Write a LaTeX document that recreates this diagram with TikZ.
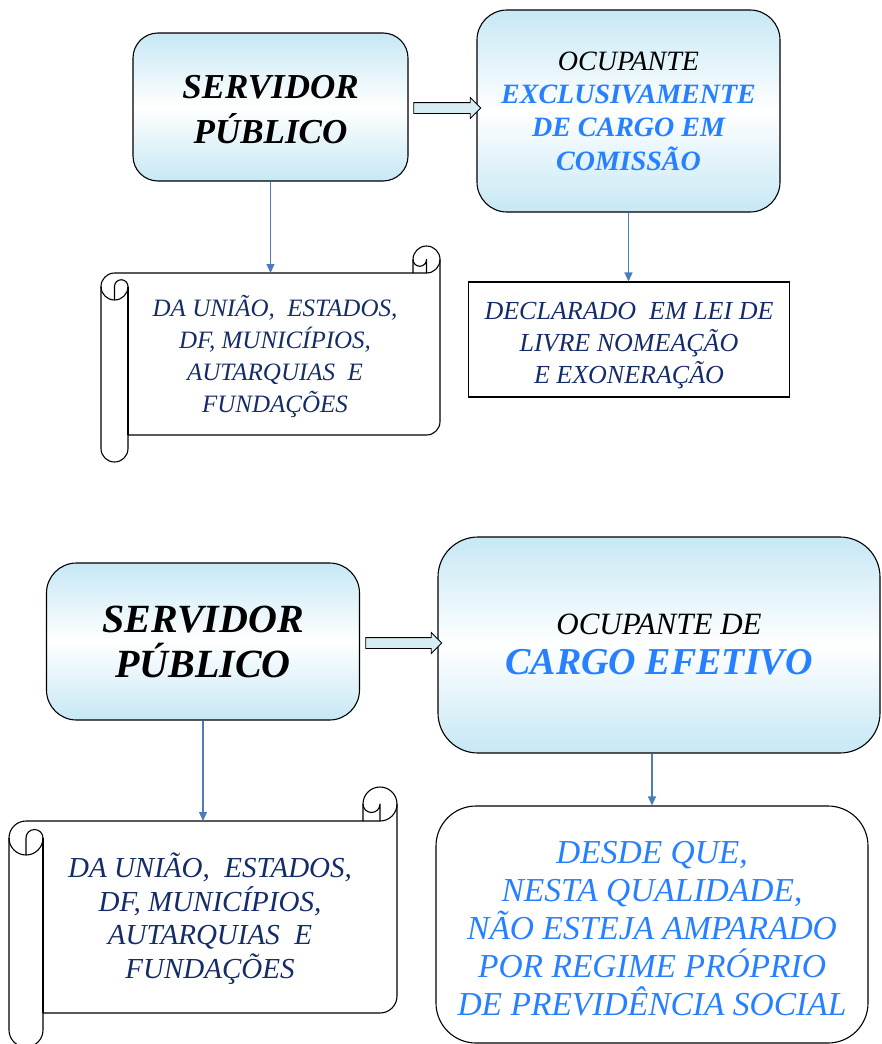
\documentclass[tikz,border=0pt]{standalone}
\usepackage{fontspec}
\setmainfont{Liberation Serif}
\usetikzlibrary{arrows.meta,shapes.arrows,calc}
\definecolor{cgrad}{RGB}{198,232,245}
\definecolor{cblue}{RGB}{38,128,255}
\definecolor{cnavy}{RGB}{20,44,104}
\definecolor{cline}{RGB}{74,126,187}
\definecolor{carrow}{RGB}{214,237,244}
\newcommand\bl[1]{{\color{cblue}\bfseries #1}}
\newcommand\drawscroll[5]{%
  \pgfmathsetmacro\scL{#1}\pgfmathsetmacro\scT{#2}%
  \pgfmathsetmacro\scR{#3}\pgfmathsetmacro\scB{#4}%
  \pgfmathsetmacro\scC{#5}\pgfmathsetmacro\scH{#5/2}\pgfmathsetmacro\scQ{#5/4}%
  \pgfmathsetmacro\ya{\scT+\scH}\pgfmathsetmacro\yb{\scT+\scC}%
  \pgfmathsetmacro\yc{\scT+1.5*\scC}\pgfmathsetmacro\yd{\scT+2*\scC}%
  \pgfmathsetmacro\ye{\scB-1.5*\scC}\pgfmathsetmacro\yf{\scB-\scC}%
  \pgfmathsetmacro\yg{\scB-\scH}%
  \pgfmathsetmacro\xa{\scL+\scH}\pgfmathsetmacro\xb{\scL+\scC}%
  \pgfmathsetmacro\xc{\scR-\scC}\pgfmathsetmacro\xd{\scR-\scH}%
  \draw[scrl, fill=white] (\scL,\yc) arc[start angle=180,end angle=270,radius=\scH]
    -- (\xc,\yb) -- (\xc,\ya) arc[start angle=180,end angle=360,radius=\scH]
    -- (\scR,\ye) arc[start angle=0,end angle=90,radius=\scH]
    -- (\xb,\yf) -- (\xb,\yg) arc[start angle=0,end angle=180,radius=\scH] -- cycle;
  \draw[scrl] (\xc,\yb) -- (\xd,\yb) arc[start angle=90,end angle=0,radius=\scH];
  \draw[scrl] (\xd,\yb) -- (\xd,\ya) arc[start angle=0,end angle=180,radius=\scQ];
  \draw[scrl] (\xa,\yd) -- (\xa,\yc) arc[start angle=180,end angle=360,radius=\scQ]
    arc[start angle=0,end angle=180,radius=\scH];
  \draw[scrl] (\xb,\yc) -- (\xb,\yf);
}
\begin{document}
\begin{tikzpicture}[x=1pt,y=1pt,yscale=-1,
  gbox/.style={draw=black, line width=1.1pt, top color=cgrad, bottom color=cgrad,
    middle color=white, align=center, inner sep=0pt},
  pbox/.style={draw=black, line width=1.1pt, fill=white, align=center, inner sep=0pt},
  scrl/.style={draw=black, line width=1.1pt, line join=round},
  barrow/.style={single arrow, draw=black, line width=0.8pt, fill=carrow, inner sep=5pt,
    single arrow head extend=5pt, single arrow head indent=0pt, minimum width=20pt},
  conn/.style={draw=cline, line width=1.2pt, -{Triangle[length=9pt,width=8pt]}},
  navytext/.style={text=cnavy, align=center}]
\useasboundingbox (0,0) rectangle (881,1044);
\clip (0,0) rectangle (881,1044);

% ---------- top part ----------
\node[gbox, rounded corners=25pt, minimum width=275pt, minimum height=148pt] (SP1) at (270.5,107) {};
\node[align=center, font=\fontsize{35}{45}\selectfont\bfseries\itshape] (SP1t) at (270.5,109.5)
  {SERVIDOR\\PÚBLICO};
\node[gbox, rounded corners=30pt, minimum width=303pt, minimum height=202pt,
  font=\fontsize{28}{33.3}\selectfont\itshape] (OC1) at (628.5,111)
  {OCUPANTE\\\bl{EXCLUSIVAMENTE}\\\bl{DE CARGO EM}\\\bl{COMISSÃO}};
\node[barrow, minimum height=67pt] (A1) at (444.5,108) {};

\drawscroll{101}{246}{440}{462}{27}
\node[navytext, font=\fontsize{25}{32}\selectfont\itshape] (T1) at (275,356)
  {DA UNIÃO,\ \ ESTADOS,\\DF, MUNICÍPIOS,\\AUTARQUIAS\ \ E\\FUNDAÇÕES};
\coordinate (s1top) at (270.5,273);
\draw[conn] (SP1.south) -- (s1top);

\node[pbox, minimum width=321pt, minimum height=115pt] (DECL) at (629,339.5) {};
\node[navytext, font=\fontsize{26}{32}\selectfont\itshape] (DECLt) at (629,345.5)
  {DECLARADO\ \ EM LEI DE\\LIVRE NOMEAÇÃO\\E EXONERAÇÃO};
\draw[conn] (OC1.south) -- (OC1.south |- DECL.north);

% ---------- bottom part ----------
\node[gbox, rounded corners=30pt, minimum width=313pt, minimum height=157pt,
  font=\fontsize{40}{45}\selectfont\bfseries\itshape] (SP2) at (203,641.5)
  {SERVIDOR\\PÚBLICO};
\node[gbox, rounded corners=40pt, minimum width=442pt, minimum height=216pt,
  font=\fontsize{31}{40}\selectfont\itshape] (OC2) at (659,645)
  {OCUPANTE DE\\{\fontsize{38}{40}\selectfont\bl{CARGO EFETIVO}}};
\node[barrow, minimum height=76pt] (A2) at (401,643) {};

\drawscroll{9}{787}{397}{1047}{34}
\node[navytext, font=\fontsize{29}{33.5}\selectfont\itshape] (T2) at (210,918.5)
  {DA UNIÃO,\ \ ESTADOS,\\DF, MUNICÍPIOS,\\AUTARQUIAS\ \ E\\FUNDAÇÕES};
\coordinate (s2top) at (203,821);
\draw[conn] (SP2.south) -- (s2top);

\node[pbox, rounded corners=40pt, minimum width=432pt, minimum height=237pt] (DQ) at (652,924.5) {};
\node[align=center, font=\fontsize{33.5}{38}\selectfont\itshape, text=cblue] (DQt) at (652,928.5)
  {DESDE QUE,\\NESTA QUALIDADE,\\NÃO ESTEJA AMPARADO\\POR REGIME PRÓPRIO\\DE PREVIDÊNCIA SOCIAL};
\draw[conn] (DQ.north |- OC2.south) -- (DQ.north);
\end{tikzpicture}
\end{document}
